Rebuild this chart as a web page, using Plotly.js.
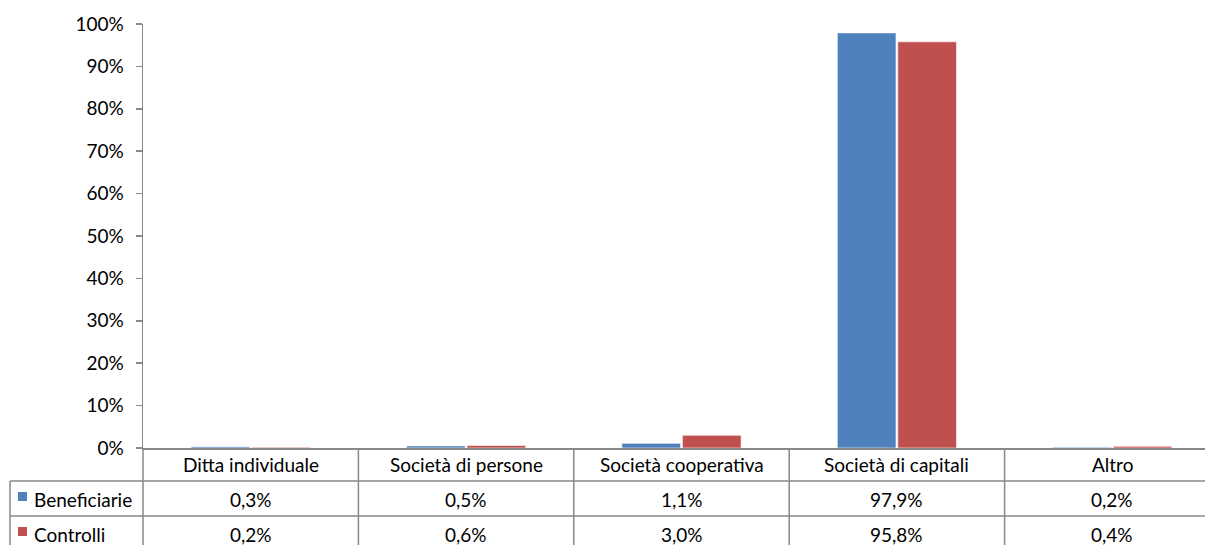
<!DOCTYPE html>
<html><head><meta charset="utf-8">
<script src="https://cdn.plot.ly/plotly-3.0.1.min.js"></script>
<style>html,body{margin:0;padding:0;background:#fff;}#chart{width:1205px;height:545px;}</style>
</head><body><div id="chart"></div>
<script>
const categories = ["Ditta individuale", "Società di persone", "Società cooperativa", "Società di capitali", "Altro"];
const seriesNames = ["Beneficiarie", "Controlli"];
const beneficiarie = [0.3, 0.5, 1.1, 97.9, 0.2];
const controlli = [0.2, 0.6, 3.0, 95.8, 0.4];
const colors = ["#4F81BD", "#C0504D"];
const yTickVals = [0,10,20,30,40,50,60,70,80,90,100];

const W = 1205, H = 545;
const L = 143, R = 0, T = 24, B = 97;
const plotW = W - L - R, plotH = H - T - B;
const catW = 215.4;
const xMax = -0.5 + plotW / catW;
const FONT = "Lato, 'Open Sans', sans-serif";
const FS = 19;
const gridColor = "#898989";

function py(p){ return (H - B - p) / plotH; }      // pixel y -> paper
function px(p){ return (p - L) / plotW; }         // pixel x -> paper
function fmt(v){ return v.toFixed(1).replace('.', ',') + '%'; }

const traces = [beneficiarie, controlli].map((vals, i) => ({
  type: 'bar', name: seriesNames[i], x: categories, y: vals,
  marker: {color: colors[i], line: {color: 'rgba(255,255,255,0.6)', width: 1}},
  hoverinfo: 'none'
}));

const shapes = [];
const annotations = [];
const rowLines = [481, 516, 551];
rowLines.forEach(p => shapes.push({type:'line', xref:'paper', yref:'paper', x0: px(10), x1: 1, y0: py(p), y1: py(p), line:{color:gridColor, width:1.5}}));
shapes.push({type:'line', xref:'paper', yref:'paper', x0: px(10), x1: px(10), y0: py(481), y1: py(551), line:{color:gridColor, width:1.5}});
shapes.push({type:'line', xref:'paper', yref:'paper', x0: 0, x1: 0, y0: 0, y1: py(551), line:{color:gridColor, width:1.5}});
for (let i = 1; i < categories.length + 1; i++) {
  shapes.push({type:'line', xref:'x', yref:'paper', x0: i - 0.5, x1: i - 0.5, y0: 0, y1: py(551), line:{color:gridColor, width:1.5}});
}
categories.forEach((c, i) => annotations.push({xref:'x', yref:'paper', x: i, y: py(465), text: c, showarrow:false, font:{family:FONT, size:FS, color:'#000'}, xanchor:'center', yanchor:'middle'}));
[beneficiarie, controlli].forEach((vals, r) => {
  const yc = [499, 534][r];
  vals.forEach((v, i) => annotations.push({xref:'x', yref:'paper', x: i, y: py(yc), text: fmt(v), showarrow:false, font:{family:FONT, size:FS, color:'#000'}, xanchor:'center', yanchor:'middle'}));
  annotations.push({xref:'paper', yref:'paper', x: px(32), y: py(yc), text: seriesNames[r], showarrow:false, font:{family:FONT, size:FS, color:'#000'}, xanchor:'left', yanchor:'middle'});
  shapes.push({type:'rect', xref:'paper', yref:'paper', x0: px(18), x1: px(27), y0: py(yc+2), y1: py(yc-7), fillcolor: colors[r], line:{width:0}});
});

const layout = {
  width: W, height: H,
  margin: {l: L, r: R, t: T, b: B, pad: 0},
  paper_bgcolor: '#fff', plot_bgcolor: '#fff',
  showlegend: false,
  barmode: 'group', bargap: 0.438, bargroupgap: 0.03,
  font: {family: FONT, size: FS, color: '#000'},
  xaxis: {type:'category', range:[-0.5, xMax], showticklabels:false, ticks:'', showgrid:false, zeroline:false,
          showline:true, linecolor:gridColor, linewidth:1.5, fixedrange:true},
  yaxis: {range:[0,100], tickvals: yTickVals, ticktext: yTickVals.map(v => v + '%'), ticks:'outside', ticklen:6,
          tickcolor:gridColor, tickwidth:1.5, showline:true, linecolor:gridColor, linewidth:1.5, showgrid:false,
          zeroline:false, tickfont:{family:FONT, size:FS, color:'#000'}, ticklabelstandoff: 8, fixedrange:true},
  shapes: shapes, annotations: annotations
};
Plotly.newPlot('chart', traces, layout, {staticPlot:true, displayModeBar:false});
</script></body></html>
